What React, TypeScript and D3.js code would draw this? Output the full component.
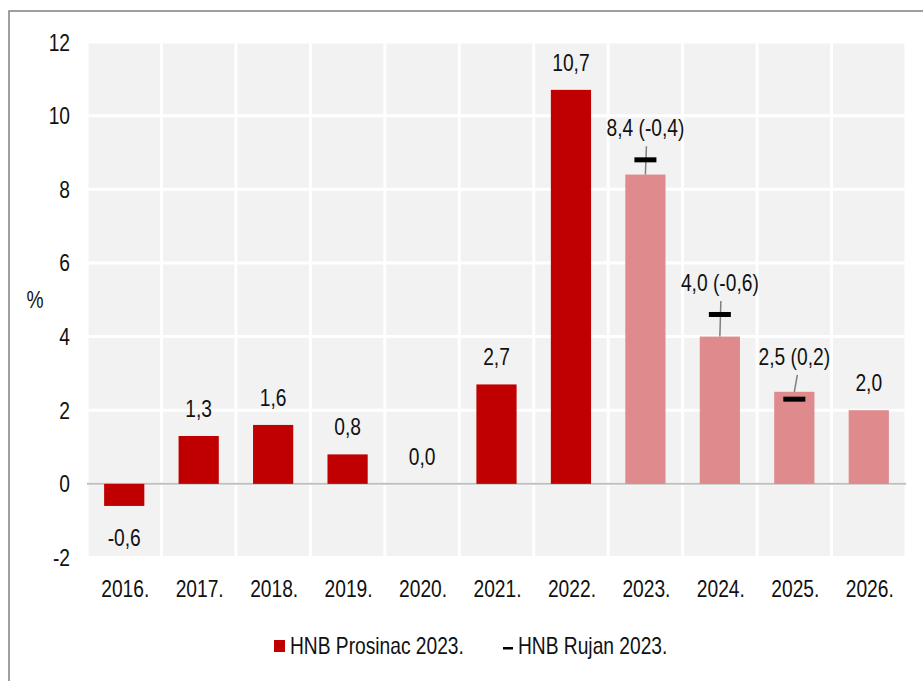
import React from 'react';
import * as d3 from 'd3';

const years = ['2016.', '2017.', '2018.', '2019.', '2020.', '2021.', '2022.', '2023.', '2024.', '2025.', '2026.'];
const prosinac2023 = [-0.6, 1.3, 1.6, 0.8, 0.0, 2.7, 10.7, 8.4, 4.0, 2.5, 2.0];
const rujan2023: (number | null)[] = [null, null, null, null, null, null, null, 8.8, 4.6, 2.3, null];
const isForecast = [false, false, false, false, false, false, false, true, true, true, true];
const yTicks = [-2, 0, 2, 4, 6, 8, 10, 12];
const legendLabels = ['HNB Prosinac 2023.', 'HNB Rujan 2023.'];

const W = 923, H = 681;
const FONT = '"Liberation Sans", Arial, sans-serif';
const SX = 0.8;
const RED = '#c00000';
const PINK = '#df8a8d';

const fmt = (v: number) => (v < -1e-9 ? '-' : '') + Math.abs(v).toFixed(1).replace('.', ',');

function T({ x, y, children, anchor = 'middle', size = 24 }: any) {
  return (
    <text
      transform={`translate(${x},${y}) scale(${SX},1)`}
      textAnchor={anchor}
      fontFamily={FONT}
      fontSize={size}
      fill="#111"
    >
      {children}
    </text>
  );
}

export default function App() {
  const x = d3.scaleBand<string>().domain(years).range([87, 906]).paddingInner(0.46).paddingOuter(0.23);
  const y = d3.scaleLinear().domain([-2, 12]).range([557.5, 42]);
  const step = x.step();
  const bw = x.bandwidth();
  const left = 87, right = 906;
  const markW = 22, markH = 5;

  return (
    <svg width={W} height={H} style={{ position: 'absolute', left: 0, top: 0, background: '#fff' }}>
      <rect x={9} y={11} width={W + 20} height={H + 20} fill="#fff" stroke="#808080" strokeWidth={1.5} />
      {/* plot background */}
      <rect x={left} y={y(12)} width={right - left} height={y(-2) - y(12)} fill="#f2f2f2" />
      {/* white grid */}
      {yTicks.map((t) => (
        <line key={'h' + t} x1={left} x2={right} y1={y(t)} y2={y(t)} stroke="#fff" strokeWidth={3} />
      ))}
      {d3.range(years.length + 1).map((i) => (
        <line key={'v' + i} x1={left + i * step} x2={left + i * step} y1={y(12)} y2={y(-2)} stroke="#fff" strokeWidth={3} />
      ))}
      {/* zero line */}
      <line x1={left} x2={right} y1={y(0)} y2={y(0)} stroke="#bfbfbf" strokeWidth={2} />
      {/* bars */}
      {years.map((yr, i) => {
        const v = prosinac2023[i];
        const y0 = Math.min(y(0), y(v));
        const h = Math.abs(y(v) - y(0));
        return <rect key={yr} x={x(yr)!} y={y0} width={bw} height={h} fill={isForecast[i] ? PINK : RED} />;
      })}
      {/* labels, leaders, markers */}
      {years.map((yr, i) => {
        const v = prosinac2023[i];
        const s = rujan2023[i];
        const cx = x(yr)! + bw / 2;
        if (s === null) {
          const by = v >= 0 ? y(v) - 19 : y(v) + 40;
          return <T key={'l' + yr} x={cx} y={by}>{fmt(v)}</T>;
        }
        const inside = s < v;
        const top = Math.min(y(v), y(s) - markH / 2);
        const by = top - (inside ? 27 : 21);
        const label = `${fmt(v)} (${fmt(v - s)})`;
        return (
          <g key={'l' + yr}>
            <line x1={cx + (inside ? 3 : 1)} x2={cx} y1={by + 10} y2={y(v)} stroke="#7f7f7f" strokeWidth={1.5} />
            <rect x={cx - markW / 2} y={y(s) - markH / 2} width={markW} height={markH} fill="#000" />
            <T x={cx} y={by}>{label}</T>
          </g>
        );
      })}
      {/* y axis labels */}
      {yTicks.map((t) => (
        <T key={'yt' + t} x={70} y={y(t) + 8.5} anchor="end">{String(t)}</T>
      ))}
      <T x={35} y={308}>%</T>
      {/* x axis labels */}
      {years.map((yr) => (
        <T key={'xt' + yr} x={x(yr)! + bw / 2 + 1} y={597}>{yr}</T>
      ))}
      {/* legend */}
      <rect x={274} y={640} width={11} height={12} fill={RED} />
      <T x={290} y={654} anchor="start">{legendLabels[0]}</T>
      <rect x={503} y={647} width={10} height={2.5} fill="#000" />
      <T x={518} y={654} anchor="start">{legendLabels[1]}</T>
    </svg>
  );
}
